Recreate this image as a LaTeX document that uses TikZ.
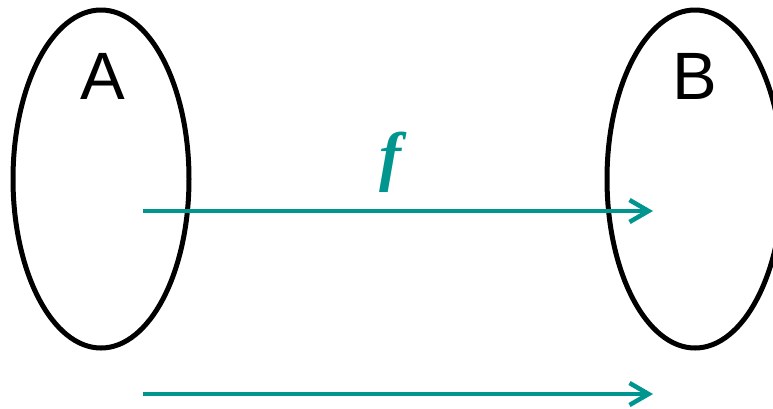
\documentclass[tikz,border=0pt]{standalone}
\usepackage{fontspec}
\setmainfont{Liberation Sans}
\newfontfamily\mapfont{Liberation Serif}
\usetikzlibrary{positioning, arrows.meta, shapes.geometric}
\definecolor{fteal}{RGB}{0,150,143}

\begin{document}
\begin{tikzpicture}[x=1pt, y=-1pt,
    set/.style={draw, ellipse, line width=5pt, minimum width=176pt,
                minimum height=338pt, inner sep=0pt},
    setname/.style={font=\fontsize{67}{80}\selectfont, inner sep=0pt},
    arrow/.style={-{Straight Barb[length=19pt, width=22pt]}, line width=4.5pt, fteal}
]
\useasboundingbox (0,0) rectangle (773,408);
\node[set] (setA) at (101,179) {};
\node[set] (setB) at (695,179) {};
\node[setname] (nameA) at (103,76) {A};
\node[setname] (nameB) at (695,76) {B};

\coordinate (fstart) at (143,211);
\coordinate (fend) at (653,211);
\coordinate (gstart) at (143,394);
\coordinate (gend) at (653,394);

\draw[arrow] (fstart) -- (fend);
\draw[arrow] (gstart) -- (gend);
\node[text=fteal, font=\mapfont\bfseries\itshape\fontsize{66}{72}\selectfont,
      inner sep=0pt] (flabel) at (390,162) {f};
\end{tikzpicture}
\end{document}
